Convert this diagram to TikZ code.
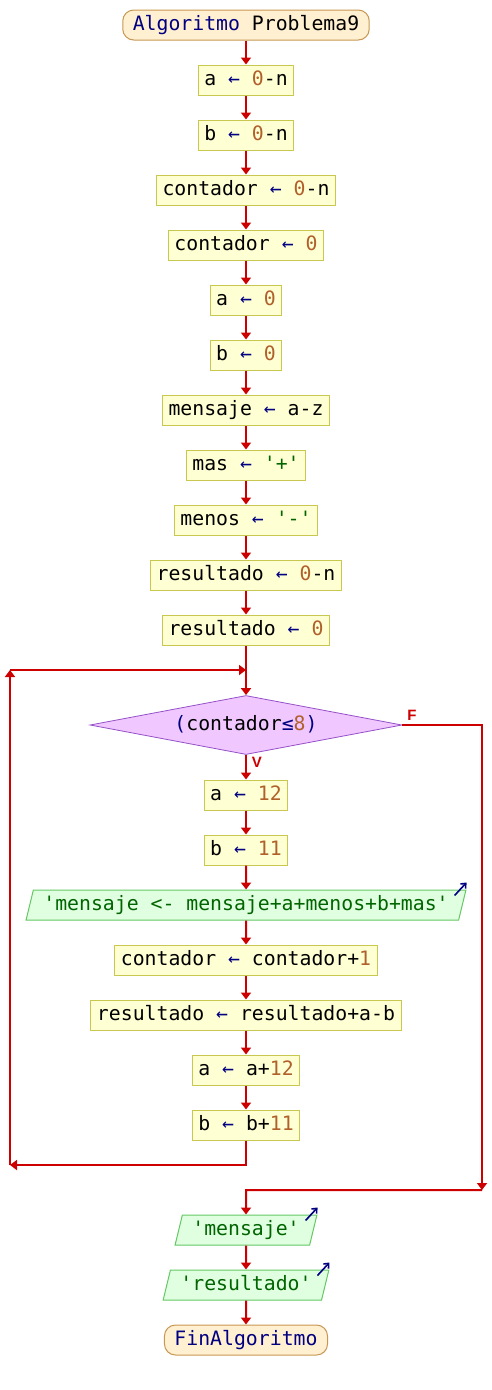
\documentclass[tikz,border=0pt]{standalone}
\usepackage{fontspec}
\usetikzlibrary{shapes.geometric,arrows.meta}
\newfontfamily\dvmono{DejaVu Sans Mono}
\newfontfamily\lbsans{Liberation Sans}
\definecolor{kwc}{HTML}{000080}
\definecolor{numc}{HTML}{B0602A}
\definecolor{strc}{HTML}{006400}
\definecolor{flowc}{HTML}{CC0000}
\definecolor{boxfill}{HTML}{FFFFD4}
\definecolor{boxline}{HTML}{C8C850}
\definecolor{termfill}{HTML}{FFF0D2}
\definecolor{termline}{HTML}{C89650}
\definecolor{decfill}{HTML}{F0C8FF}
\definecolor{decline}{HTML}{9650C8}
\definecolor{outfill}{HTML}{E0FFE0}
\definecolor{outline}{HTML}{64C864}
\newcommand\KW[1]{\textcolor{kwc}{#1}}
\newcommand\NUM[1]{\textcolor{numc}{#1}}
\newcommand\STR[1]{\textcolor{strc}{#1}}
\newcommand\ASG{\KW{←}}
\tikzset{
  base/.style={font=\dvmono\fontsize{19.8}{24}\selectfont, text height=14pt, text depth=4pt},
  assign/.style={base, rectangle, draw=boxline, fill=boxfill, line width=1pt, minimum height=30pt, inner xsep=6pt, inner ysep=0pt},
  term/.style={base, rectangle, rounded corners=11pt, draw=termline, fill=termfill, line width=1pt, minimum height=30pt, inner xsep=10pt, inner ysep=0pt},
  decis/.style={base, diamond, aspect=5.3, draw=decline, fill=decfill, line width=0.8pt, minimum width=312pt, minimum height=59pt, inner sep=0pt},
  outp/.style={base, trapezium, trapezium left angle=68, trapezium right angle=112, trapezium stretches body, draw=outline, fill=outfill, line width=1pt, minimum height=30pt, inner xsep=10pt, inner ysep=0pt},
  flow/.style={draw=flowc, line width=2pt, -{Triangle[width=10pt,length=7pt]}},
  lbl/.style={font=\lbsans\bfseries\fontsize{15}{17}\selectfont, text=flowc, inner sep=0pt},
  outicon/.style={draw=kwc, line width=1.6pt, -{Straight Barb[length=4pt,width=7pt]}}
}
\begin{document}
\begin{tikzpicture}[x=1pt,y=-1pt]
\useasboundingbox (0,0) rectangle (492,1390);
\node[term] (start) at (246,25) {\KW{Algoritmo} Problema9};
\node[assign] (n1) at (246,80) {a \ASG{} \NUM{0}-n};
\node[assign] (n2) at (246,135) {b \ASG{} \NUM{0}-n};
\node[assign] (n3) at (246,190) {contador \ASG{} \NUM{0}-n};
\node[assign] (n4) at (246,245) {contador \ASG{} \NUM{0}};
\node[assign] (n5) at (246,300) {a \ASG{} \NUM{0}};
\node[assign] (n6) at (246,355) {b \ASG{} \NUM{0}};
\node[assign] (n7) at (246,410) {mensaje \ASG{} a-z};
\node[assign] (n8) at (246,465) {mas \ASG{} \STR{'+'}};
\node[assign] (n9) at (246,520) {menos \ASG{} \STR{'-'}};
\node[assign] (n10) at (246,575) {resultado \ASG{} \NUM{0}-n};
\node[assign] (n11) at (246,630) {resultado \ASG{} \NUM{0}};
\node[decis] (cond) at (246,725) {\KW{(}contador\KW{≤}\NUM{8}\KW{)}};
\node[assign] (w1) at (246,795) {a \ASG{} \NUM{12}};
\node[assign] (w2) at (246,850) {b \ASG{} \NUM{11}};
\node[outp] (w3) at (246,905) {\STR{'mensaje <- mensaje+a+menos+b+mas'}};
\node[assign] (w4) at (246,960) {contador \ASG{} contador+\NUM{1}};
\node[assign] (w5) at (246,1015) {resultado \ASG{} resultado+a-b};
\node[assign] (w6) at (246,1070) {a \ASG{} a+\NUM{12}};
\node[assign] (w7) at (246,1125) {b \ASG{} b+\NUM{11}};
\node[outp] (o1) at (246,1230) {\STR{'mensaje'}};
\node[outp] (o2) at (246,1285) {\STR{'resultado'}};
\node[term] (end) at (246,1340) {\KW{FinAlgoritmo}};
% coordinates
\coordinate (retB) at (246,1165);
\coordinate (retL) at (10,1165);
\coordinate (retT) at (10,670);
\coordinate (retM) at (246,670);
\coordinate (fR) at (482,725);
\coordinate (fE) at (482,1190);
\coordinate (fM) at (246,1190);
% main chain
\draw[flow] (start) -- (n1);
\draw[flow] (n1) -- (n2);
\draw[flow] (n2) -- (n3);
\draw[flow] (n3) -- (n4);
\draw[flow] (n4) -- (n5);
\draw[flow] (n5) -- (n6);
\draw[flow] (n6) -- (n7);
\draw[flow] (n7) -- (n8);
\draw[flow] (n8) -- (n9);
\draw[flow] (n9) -- (n10);
\draw[flow] (n10) -- (n11);
\draw[flow] (n11) -- (cond);
\draw[flow] (cond) -- (w1);
\draw[flow] (w1) -- (w2);
\draw[flow] (w2) -- (w3.north);
\draw[flow] (w3.south) -- (w4);
\draw[flow] (w4) -- (w5);
\draw[flow] (w5) -- (w6);
\draw[flow] (w6) -- (w7);
% loop back
\draw[flow] (w7.south) -- (retB) -- (retL);
\draw[flow] (retL) -- (retT);
\draw[flow] (retT) -- (retM);
% false branch
\draw[flow] (cond.east) -- (fR) -- (fE);
\draw[flow] (fE) -- (fM) -- (o1.north);
\draw[flow] (o1.south) -- (o2.north);
\draw[flow] (o2.south) -- (end);
% labels
\node[lbl] (lf) at (412,715) {F};
\node[lbl] (lv) at (257,762) {V};
% output icons
\foreach \n in {w3,o1,o2}{
  \draw[outicon] ([xshift=-12pt,yshift=-6pt]\n.top right corner) -- ([yshift=7pt]\n.top right corner);
}
\end{tikzpicture}
\end{document}
